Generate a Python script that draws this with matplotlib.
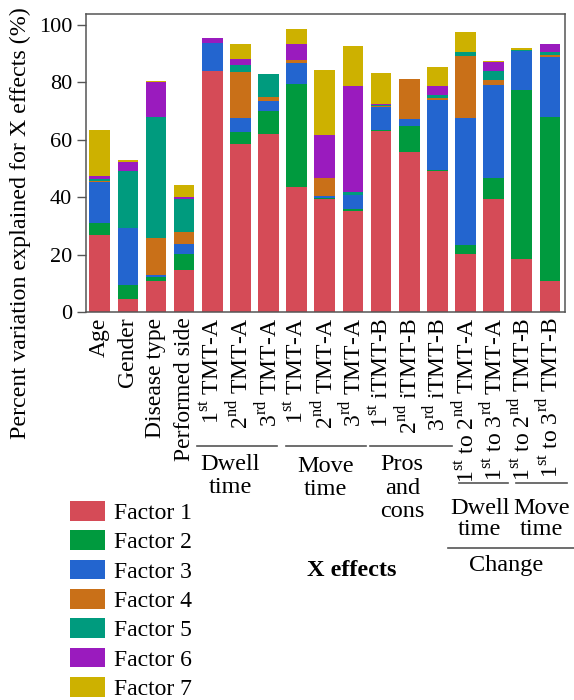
import matplotlib
matplotlib.use("Agg")
import matplotlib.pyplot as plt
from matplotlib.patches import Patch
from matplotlib.transforms import blended_transform_factory
import numpy as np

plt.rcParams['font.family'] = ['Liberation Serif', 'DejaVu Serif']
plt.rcParams['mathtext.fontset'] = 'custom'
plt.rcParams['mathtext.rm'] = 'Liberation Serif'

# data (percent variation)
labels = ["Age", "Gender", "Disease type", "Performed side",
          r"1$^{\mathrm{st}}$ TMT-A", r"2$^{\mathrm{nd}}$ TMT-A", r"3$^{\mathrm{rd}}$ TMT-A",
          r"1$^{\mathrm{st}}$ TMT-A", r"2$^{\mathrm{nd}}$ TMT-A", r"3$^{\mathrm{rd}}$ TMT-A",
          r"1$^{\mathrm{st}}$ iTMT-B", r"2$^{\mathrm{nd}}$ iTMT-B", r"3$^{\mathrm{rd}}$ iTMT-B",
          r"1$^{\mathrm{st}}$ to 2$^{\mathrm{nd}}$ TMT-A", r"1$^{\mathrm{st}}$ to 3$^{\mathrm{rd}}$ TMT-A",
          r"1$^{\mathrm{st}}$ to 2$^{\mathrm{nd}}$ TMT-B", r"1$^{\mathrm{st}}$ to 3$^{\mathrm{rd}}$ TMT-B"]

factor1 = [26.7, 4.4, 10.7, 14.7, 84.0, 58.6, 61.9, 43.4, 39.3, 35.1, 63.0, 55.8, 49.0, 20.1, 39.2, 18.4, 10.7]
factor2 = [4.3, 5.1, 1.5, 5.4, 0.0, 4.0, 8.2, 36.1, 0.5, 0.9, 0.5, 9.0, 0.5, 3.2, 7.4, 58.9, 57.1]
factor3 = [14.3, 19.8, 0.8, 3.6, 9.6, 5.1, 3.4, 7.1, 0.5, 4.7, 7.8, 2.3, 24.3, 44.4, 32.5, 13.7, 20.9]
factor4 = [0.5, 0.0, 12.7, 4.1, 0.0, 15.8, 1.3, 1.2, 6.3, 0.0, 0.3, 13.9, 0.6, 21.5, 1.8, 0.0, 0.8]
factor5 = [0.7, 19.7, 42.3, 11.5, 0.2, 2.5, 8.0, 0.0, 0.0, 1.0, 0.4, 0.3, 1.2, 1.3, 2.9, 0.4, 1.2]
factor6 = [0.9, 3.4, 12.0, 0.8, 1.5, 2.1, 0.0, 5.6, 15.0, 36.9, 0.4, 0.0, 3.2, 0.0, 3.3, 0.0, 2.8]
factor7 = [16.0, 0.5, 0.6, 4.1, 0.3, 5.4, 0.0, 5.3, 22.8, 14.2, 10.9, 0.0, 6.5, 7.2, 0.2, 0.4, 0.0]

factor_names = ["Factor 1", "Factor 2", "Factor 3", "Factor 4", "Factor 5", "Factor 6", "Factor 7"]
colors = ["#D54B57", "#009A3E", "#2365CF", "#C97018", "#009B7E", "#9A1BBE", "#CDB100"]

# group labels under the ticks: (text, x-from, x-to, line y px, text x, text y px, spacing)
groups = [("Dwell\ntime", 3.45, 6.31, 445.7, 4.63, 476, 1.12),
          ("Move\ntime", 6.61, 9.45, 445.7, 8.03, 478, 1.12),
          ("Pros\nand\ncons", 9.61, 12.51, 445.7, 10.75, 488, 1.15),
          ("Dwell\ntime", 12.78, 14.52, 483.3, 13.51, 519, 1.05),
          ("Move\ntime", 14.79, 16.6, 483.3, 15.71, 519, 1.05),
          ("Change", 12.39, 17.4, 548.3, 14.46, 565, 1.0)]

W, H = 574, 700
fig = plt.figure(figsize=(W / 100, H / 100), dpi=100)
ax = fig.add_axes([86 / W, 1 - 312 / H, (565 - 86) / W, (312 - 14) / H])

x = np.arange(len(labels))
bottom = np.zeros(len(labels))
for vals, name, c in zip([factor1, factor2, factor3, factor4, factor5, factor6, factor7],
                         factor_names, colors):
    ax.bar(x, vals, 0.735, bottom=bottom, color=c, label=name)
    bottom += np.array(vals)

ax.set_xlim(-0.487, 16.536)
ax.set_ylim(0, 103.8)
ax.set_yticks([0, 20, 40, 60, 80, 100])
ax.tick_params(axis='y', labelsize=16, length=6.5, width=1, color="#555555")
ax.set_xticks(x)
ax.set_xticklabels(labels, rotation=90, fontsize=17)
ax.tick_params(axis='x', length=0, pad=4)
for s in ax.spines.values():
    s.set_color("#555555")
    s.set_linewidth(1.1)

fig.text(0.036, 0.681, "Percent variation explained for X effects (%)",
         rotation=90, ha='center', va='center', fontsize=17.3)

tr = blended_transform_factory(ax.transData, fig.transFigure)
for txt, x0, x1, ly, tx, ty, sp in groups:
    ax.plot([x0, x1], [1 - ly / H, 1 - ly / H], color="#555555", lw=1.2,
            transform=tr, clip_on=False)
    ax.text(tx, 1 - ty / H, txt, transform=tr, ha='center', va='center',
            fontsize=17.5, linespacing=sp)

ax.text(8.96, 1 - 570 / H, "X effects", transform=tr, ha='center', va='center',
        fontsize=17.5, fontweight='bold')

handles = [Patch(facecolor=c, label=n) for c, n in zip(colors, factor_names)]
fig.legend(handles=handles, loc='upper left', bbox_to_anchor=(70 / W, 1 - 501 / H),
           frameon=False, fontsize=17, handlelength=1.5, handleheight=0.9,
           labelspacing=0.27, handletextpad=0.38, borderpad=0, borderaxespad=0)

fig.savefig("out.png", dpi=100)
